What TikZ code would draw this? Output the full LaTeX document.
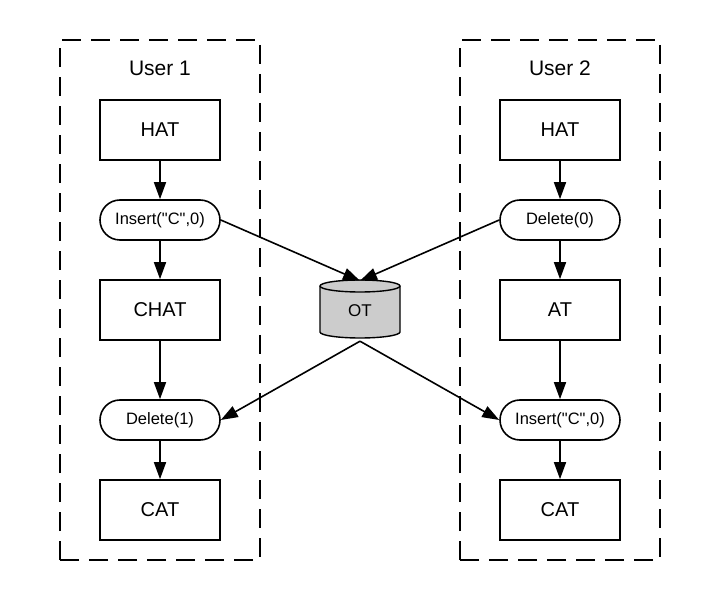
\documentclass[tikz,border=0pt]{standalone}
\usepackage{fontspec}
\setmainfont{Liberation Sans}
\usetikzlibrary{shapes.misc,arrows.meta}
\begin{document}
\begin{tikzpicture}[x=1pt,y=1pt,
  stbox/.style={draw,line width=1.6pt,minimum width=120pt,minimum height=60pt,inner sep=0pt,font=\fontsize{20}{24}\selectfont},
  opbox/.style={draw,rounded rectangle,line width=1.6pt,minimum width=120pt,minimum height=40pt,inner sep=0pt,font=\fontsize{16.5}{20}\selectfont},
  grp/.style={draw,line width=1.6pt,dash pattern=on 19pt off 10pt},
  arr/.style={line width=1.6pt,-{Triangle[length=17pt,width=12pt]}},
  lbl/.style={font=\fontsize{21}{25}\selectfont}]
\useasboundingbox (0,0) rectangle (720,600);
% groups
\draw[grp] (60,40) rectangle (260,560);
\draw[grp] (460,40) rectangle (660,560);
\node[lbl] (u1) at (160,532) {User 1};
\node[lbl] (u2) at (560,532) {User 2};
% user 1
\node[stbox] (hat1) at (160,470) {HAT};
\node[opbox] (ins1) at (160,380) {Insert(\textquotedbl C\textquotedbl,0)};
\node[stbox] (chat) at (160,290) {CHAT};
\node[opbox] (del1) at (160,180) {Delete(1)};
\node[stbox] (cat1) at (160,90) {CAT};
% user 2
\node[stbox] (hat2) at (560,470) {HAT};
\node[opbox] (del0) at (560,380) {Delete(0)};
\node[stbox] (at) at (560,290) {AT};
\node[opbox] (ins2) at (560,180) {Insert(\textquotedbl C\textquotedbl,0)};
\node[stbox] (cat2) at (560,90) {CAT};
% OT cylinder
\filldraw[fill=black!20,line width=1.4pt] (320,314) -- (320,268)
  arc[start angle=180,end angle=360,x radius=40pt,y radius=6pt] -- (400,314)
  arc[start angle=0,end angle=180,x radius=40pt,y radius=6pt] -- cycle;
\draw[line width=1.4pt] (320,314) arc[start angle=180,end angle=360,x radius=40pt,y radius=6pt];
\node[minimum width=80pt,minimum height=60pt,inner sep=0pt,font=\fontsize{17}{20}\selectfont] (ot) at (360,289) {OT};
% arrows
\draw[arr] (hat1) -- (ins1);
\draw[arr] (ins1) -- (chat);
\draw[arr] (chat) -- (del1);
\draw[arr] (del1) -- (cat1);
\draw[arr] (hat2) -- (del0);
\draw[arr] (del0) -- (at);
\draw[arr] (at) -- (ins2);
\draw[arr] (ins2) -- (cat2);
\draw[arr] (ins1.east) -- (ot.north);
\draw[arr] (del0.west) -- (ot.north);
\draw[arr] (ot.south) -- (del1.east);
\draw[arr] (ot.south) -- (ins2.west);
\end{tikzpicture}
\end{document}
